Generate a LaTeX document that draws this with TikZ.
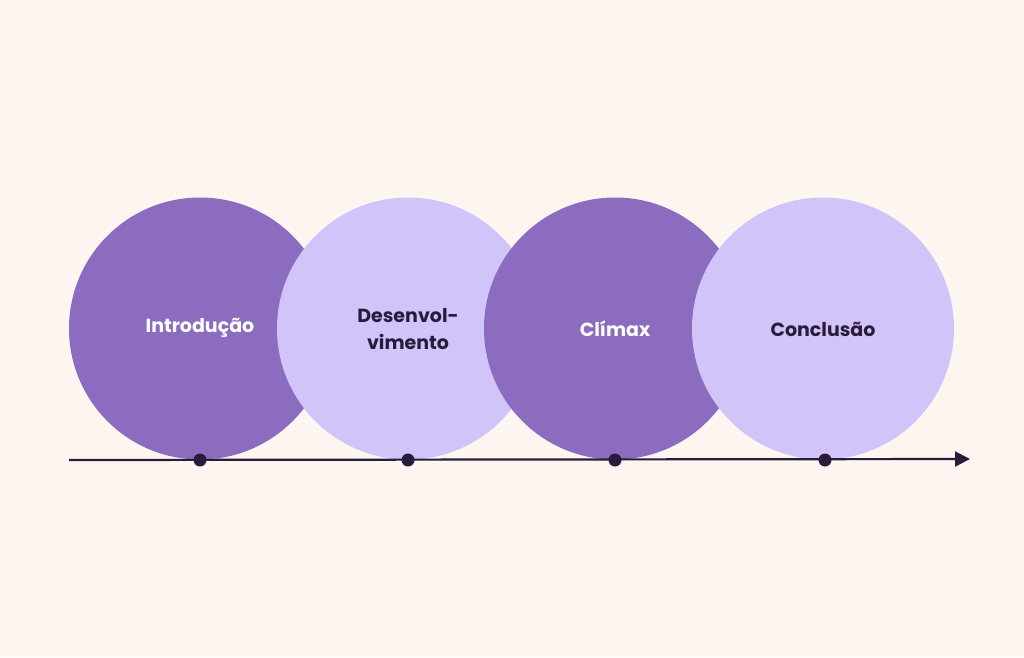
\documentclass[tikz,border=0pt]{standalone}
\usepackage{fontspec}
\setmainfont{Poppins}
\usetikzlibrary{arrows.meta}
\definecolor{bg}{HTML}{FDF5F0}
\definecolor{darkp}{HTML}{8C6CBE}
\definecolor{lightp}{HTML}{D0C4F8}
\definecolor{ink}{HTML}{2A1B3D}
\tikzset{
  stage/.style={circle, minimum size=262pt, inner sep=0pt, draw=none},
  darkstage/.style={stage, fill=darkp, text=white},
  lightstage/.style={stage, fill=lightp, text=ink},
  lbl/.style={font=\bfseries\fontsize{19}{27}\selectfont, align=center},
  dot/.style={circle, fill=ink, minimum size=13pt, inner sep=0pt},
}
\begin{document}
\begin{tikzpicture}[x=1pt,y=-1pt]
\fill[bg] (0,0) rectangle (1024,657);
\useasboundingbox (0,0) rectangle (1024,657);
\node[darkstage] (c1) at (200,328.5) {};
\node[lightstage] (c2) at (408,328.5) {};
\node[darkstage] (c3) at (615,328.5) {};
\node[lightstage] (c4) at (823,328.5) {};
\node[lbl, text=white] (t1) at (200,327.5) {Introdução};
\node[lbl, text=ink] (t2) at (408,329) {Desenvol-\\vimento};
\node[lbl, text=white] (t3) at (615,329) {Clímax};
\node[lbl, text=ink] (t4) at (823,329) {Conclusão};
\coordinate (s) at (69,460);
\coordinate (e) at (970,459);
\draw[ink, line width=2.2pt, -{Triangle[length=15pt,width=15pt]}] (s) -- (e);
\node[dot] (d1) at (200,460) {};
\node[dot] (d2) at (408,460) {};
\node[dot] (d3) at (615,460) {};
\node[dot] (d4) at (825,460) {};
\end{tikzpicture}
\end{document}
